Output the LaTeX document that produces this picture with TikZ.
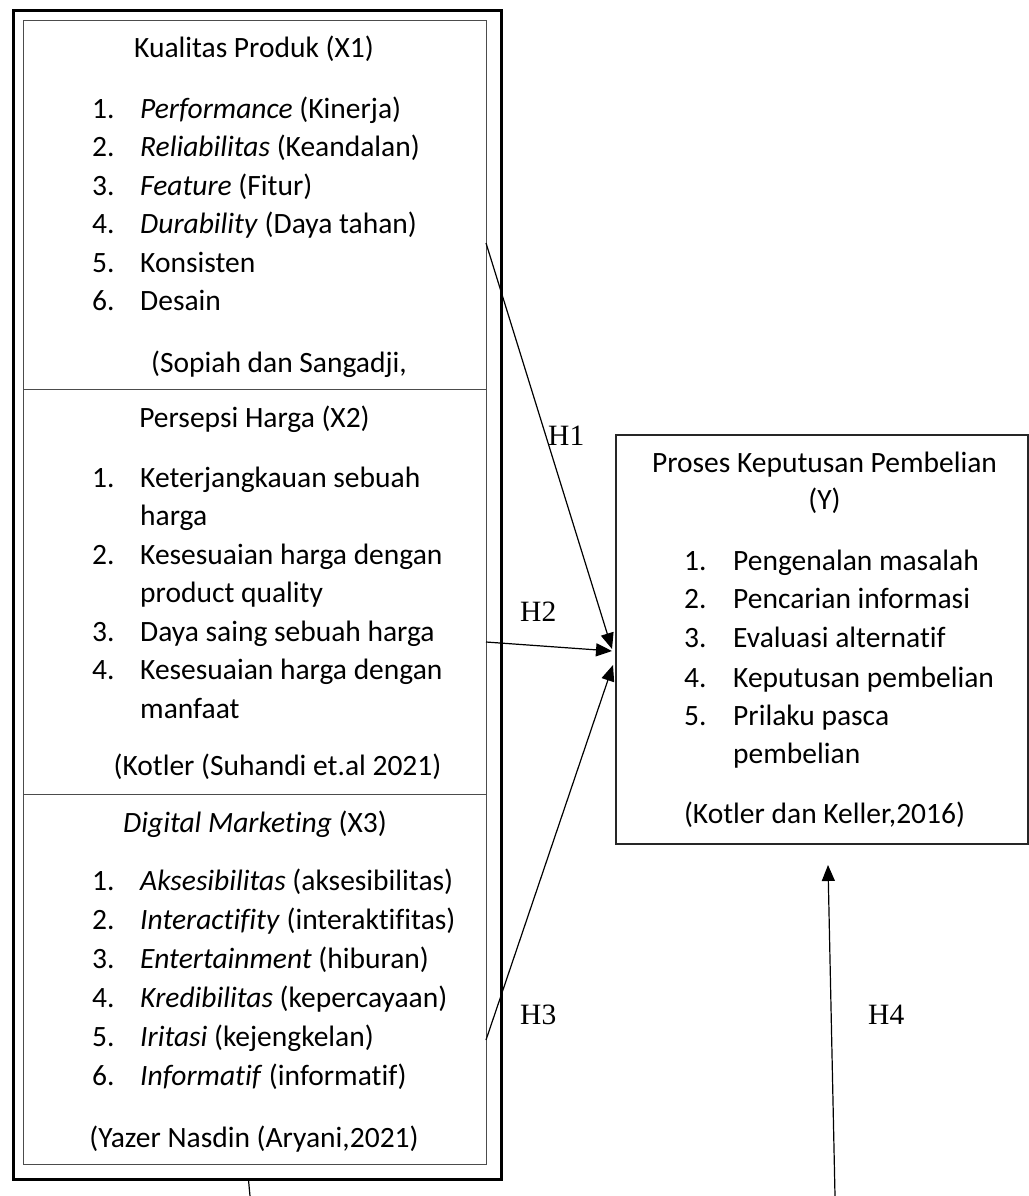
\documentclass[tikz,border=0pt]{standalone}
\usepackage{fontspec}
\setmainfont{Carlito}[Ligatures=CommonOff]
\newfontfamily\tms{Liberation Serif}
\usetikzlibrary{arrows.meta}
\tikzset{
  outerbox/.style={draw=black, line width=3pt, inner sep=0pt, anchor=north west},
  innerbox/.style={draw=black!70, line width=1.3pt, inner sep=0pt, anchor=north west},
  ybox/.style={draw=black!85, line width=1.5pt, inner sep=0pt, anchor=north west},
  txt/.style={font=\fontsize{29.5}{34}\selectfont, inner sep=0pt, anchor=base west},
  ttl/.style={font=\fontsize{29.5}{34}\selectfont, inner sep=0pt, anchor=base},
  hlab/.style={font=\tms\fontsize{29.5}{34}\selectfont, inner sep=0pt, anchor=base west},
  conn/.style={line width=1.2pt, -{Triangle[length=16pt,width=13pt]}},
  plainline/.style={line width=1.2pt},
}
\begin{document}
\begin{tikzpicture}[x=1pt,y=-1pt]
\useasboundingbox[fill=white] (0,0) rectangle (1028,1196);
% boxes
\node[outerbox, minimum width=488pt, minimum height=1169pt] (outer) at (12,9) {};
\node[innerbox, minimum width=463pt, minimum height=369pt] (x1) at (23,20) {};
\node[innerbox, minimum width=463pt, minimum height=405pt] (x2) at (23,389) {};
\node[innerbox, minimum width=463pt, minimum height=370pt] (x3) at (23,794) {};
\node[ybox, minimum width=412pt, minimum height=409pt] (y) at (615,434) {};
% X1
\node[ttl] (x1t) at (254,58) {Kualitas Produk (X1)};
\node[txt] (x1n1) at (92,118) {1.}; \node[txt] (x1i1) at (140,118) {\textit{Performance} (Kinerja)};
\node[txt] (x1n2) at (92,157) {2.}; \node[txt] (x1i2) at (140,157) {\textit{Reliabilitas} (Keandalan)};
\node[txt] (x1n3) at (92,195) {3.}; \node[txt] (x1i3) at (140,195) {\textit{Feature} (Fitur)};
\node[txt] (x1n4) at (92,233) {4.}; \node[txt] (x1i4) at (140,233) {\textit{Durability} (Daya tahan)};
\node[txt] (x1n5) at (92,272) {5.}; \node[txt] (x1i5) at (140,272) {Konsisten};
\node[txt] (x1n6) at (92,310) {6.}; \node[txt] (x1i6) at (140,310) {Desain};
\node[ttl] (x1s) at (279,372) {(Sopiah dan Sangadji,};
% X2
\node[ttl] (x2t) at (254.5,427) {Persepsi Harga (X2)};
\node[txt] (x2n1) at (92,487) {1.}; \node[txt] (x2i1) at (140,487) {Keterjangkauan sebuah};
\node[txt] (x2i1b) at (140,525.5) {harga};
\node[txt] (x2n2) at (92,564) {2.}; \node[txt] (x2i2) at (140,564) {Kesesuaian harga dengan};
\node[txt] (x2i2b) at (140,602.5) {product quality};
\node[txt] (x2n3) at (92,641) {3.}; \node[txt] (x2i3) at (140,641) {Daya saing sebuah harga};
\node[txt] (x2n4) at (92,679.5) {4.}; \node[txt] (x2i4) at (140,679.5) {Kesesuaian harga dengan};
\node[txt] (x2i4b) at (140,718) {manfaat};
\node[ttl] (x2s) at (277.5,775) {(Kotler (Suhandi et.al 2021)};
% X3
\node[ttl] (x3t) at (255,832) {\textit{Digital Marketing} (X3)};
\node[txt] (x3n1) at (92,890) {1.}; \node[txt] (x3i1) at (140,890) {\textit{Aksesibilitas} (aksesibilitas)};
\node[txt] (x3n2) at (92,929) {2.}; \node[txt] (x3i2) at (140,929) {\textit{Interactifity} (interaktifitas)};
\node[txt] (x3n3) at (92,968) {3.}; \node[txt] (x3i3) at (140,968) {\textit{Entertainment} (hiburan)};
\node[txt] (x3n4) at (92,1007) {4.}; \node[txt] (x3i4) at (140,1007) {\textit{Kredibilitas} (kepercayaan)};
\node[txt] (x3n5) at (92,1046) {5.}; \node[txt] (x3i5) at (140,1046) {\textit{Iritasi} (kejengkelan)};
\node[txt] (x3n6) at (92,1085) {6.}; \node[txt] (x3i6) at (140,1085) {\textit{Informatif} (informatif)};
\node[ttl] (x3s) at (254,1147) {(Yazer Nasdin (Aryani,2021)};
% Y
\node[ttl] (yt) at (824.5,472) {Proses Keputusan Pembelian};
\node[ttl] (yt2) at (824.5,509) {(Y)};
\node[txt] (yn1) at (684,570) {1.}; \node[txt] (yi1) at (733,570) {Pengenalan masalah};
\node[txt] (yn2) at (684,608) {2.}; \node[txt] (yi2) at (733,608) {Pencarian informasi};
\node[txt] (yn3) at (684,647) {3.}; \node[txt] (yi3) at (733,647) {Evaluasi alternatif};
\node[txt] (yn4) at (684,687) {4.}; \node[txt] (yi4) at (733,687) {Keputusan pembelian};
\node[txt] (yn5) at (684,725) {5.}; \node[txt] (yi5) at (733,725) {Prilaku pasca};
\node[txt] (yi5b) at (733,763) {pembelian};
\node[ttl] (ys) at (824.5,823) {(Kotler dan Keller,2016)};
% connector end points
\coordinate (h1s) at (486,243);
\coordinate (h1e) at (612,649);
\coordinate (h2s) at (486,642);
\coordinate (h2e) at (612,651);
\coordinate (h3s) at (486,1040);
\coordinate (h3e) at (613,665);
\coordinate (h4s) at (835,1196);
\coordinate (h4e) at (828,865);
\coordinate (bs) at (248.5,1180);
\coordinate (be) at (250,1196);
\draw[conn] (h1s) -- (h1e);
\draw[conn] (h2s) -- (h2e);
\draw[conn] (h3s) -- (h3e);
\draw[conn] (h4s) -- (h4e);
\draw[plainline] (bs) -- (be);
% labels
\node[hlab] (lh1) at (548,445) {H1};
\node[hlab] (lh2) at (520,621) {H2};
\node[hlab] (lh3) at (520,1024) {H3};
\node[hlab] (lh4) at (868,1024) {H4};
\end{tikzpicture}
\end{document}
